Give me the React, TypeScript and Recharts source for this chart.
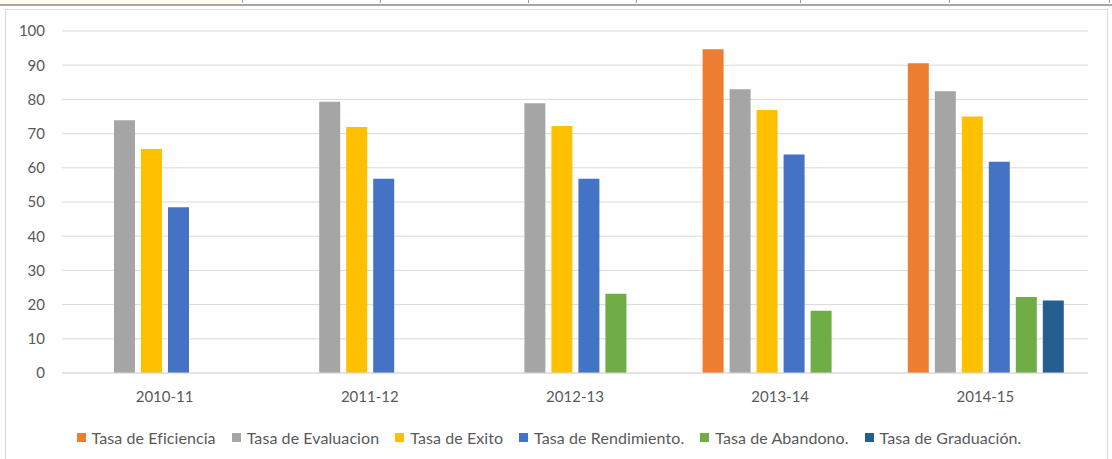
import React from "react";
import { BarChart, Bar, XAxis, YAxis, CartesianGrid, Legend } from "recharts";

const categories = ["2010-11", "2011-12", "2012-13", "2013-14", "2014-15"];
const eficiencia = [null, null, null, 94.7, 90.6];
const evaluacion = [73.9, 79.3, 78.9, 83.0, 82.4];
const exito = [65.5, 71.9, 72.2, 76.9, 75.0];
const rendimiento = [48.5, 56.8, 56.8, 63.9, 61.8];
const abandono = [null, null, 23.2, 18.2, 22.2];
const graduacion = [null, null, null, null, 21.2];
const yTicks = [0, 10, 20, 30, 40, 50, 60, 70, 80, 90, 100];

const seriesDefs = [
  { key: "eficiencia", name: "Tasa de Eficiencia", color: "#ED7D31", values: eficiencia },
  { key: "evaluacion", name: "Tasa de Evaluacion", color: "#A5A5A5", values: evaluacion },
  { key: "exito", name: "Tasa de Exito", color: "#FFC000", values: exito },
  { key: "rendimiento", name: "Tasa de Rendimiento.", color: "#4472C4", values: rendimiento },
  { key: "abandono", name: "Tasa de Abandono.", color: "#70AD47", values: abandono },
  { key: "graduacion", name: "Tasa de Graduación.", color: "#255E91", values: graduacion },
];

const data = categories.map((c, i) => {
  const row: Record<string, any> = { cat: c };
  seriesDefs.forEach((s) => {
    row[s.key] = s.values[i];
  });
  return row;
});

const FONT = "Lato, 'Open Sans', sans-serif";
const TEXT = "#595959";

const cellEdges = [0, 243, 381, 529, 637, 801, 950, 1110];

const LegendContent = () => (
  <div
    style={{
      display: "flex",
      justifyContent: "center",
      alignItems: "center",
      fontFamily: FONT,
      fontSize: 16,
      letterSpacing: 0.08,
      color: TEXT,
      height: 32,
      paddingLeft: 20,
    }}
  >
    {seriesDefs.map((s) => (
      <div key={s.key} style={{ display: "flex", alignItems: "center", marginRight: 16 }}>
        <span style={{ width: 9, height: 9, background: s.color, marginRight: 6, display: "inline-block" }} />
        <span>{s.name}</span>
      </div>
    ))}
  </div>
);

export default function App() {
  return (
    <div style={{ position: "absolute", left: 0, top: 0, width: 1112, height: 459, background: "#fff", overflow: "hidden" }}>
      {/* spreadsheet strip */}
      {cellEdges.slice(0, -1).map((x, i) => (
        <div
          key={i}
          style={{
            position: "absolute",
            left: x,
            top: -2,
            width: cellEdges[i + 1] - x - 1,
            height: 5,
            background: i === 0 ? "#FFFDF0" : "#fff",
            borderRight: "1px solid #9a9a9a",
          }}
        />
      ))}
      <div style={{ position: "absolute", left: 0, top: 4, width: 1112, height: 2, background: "#a6a6a6" }} />
      {/* chart frame */}
      <div
        style={{
          position: "absolute",
          left: 5,
          top: 9,
          width: 1103,
          height: 460,
          border: "1px solid #d9d9d9",
          boxSizing: "border-box",
        }}
      />
      <div style={{ position: "absolute", left: 6, top: 10 }}>
        <BarChart
          width={1102}
          height={449}
          data={data}
          margin={{ top: 21, right: 20, bottom: 6, left: 0 }}
          barSize={21}
          barGap={6}
        >
          <CartesianGrid vertical={false} stroke="#d9d9d9" strokeWidth={1} />
          <XAxis
            dataKey="cat"
            axisLine={{ stroke: "#d9d9d9" }}
            tickLine={false}
            tickSize={0}
            tickMargin={18}
            height={48}
            tick={{ fill: TEXT, fontSize: 15, fontFamily: FONT }}
          />
          <YAxis
            domain={[0, 100]}
            ticks={yTicks}
            axisLine={false}
            tickLine={false}
            tickSize={0}
            tickMargin={17}
            width={56}
            tick={{ fill: TEXT, fontSize: 15, fontFamily: FONT }}
            interval={0}
          />
          <Legend verticalAlign="bottom" height={32} content={<LegendContent />} />
          {seriesDefs.map((s) => (
            <Bar key={s.key} dataKey={s.key} name={s.name} fill={s.color} isAnimationActive={false} />
          ))}
        </BarChart>
      </div>
    </div>
  );
}
